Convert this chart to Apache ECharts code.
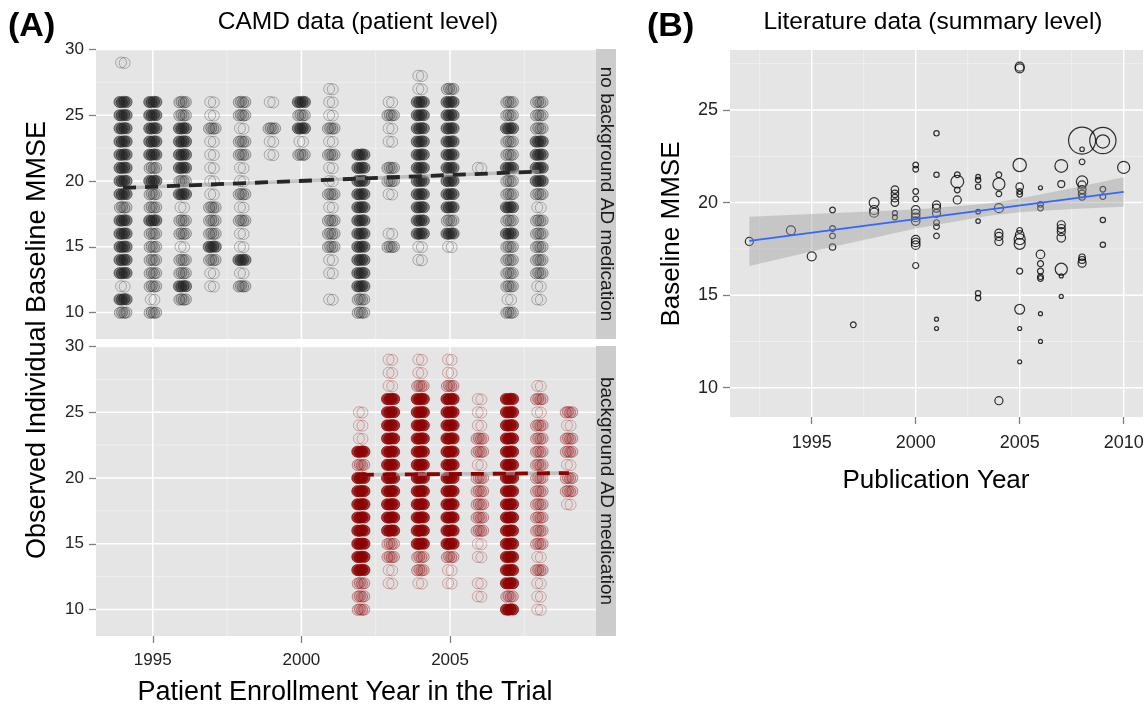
<!DOCTYPE html>
<html>
<head>
<meta charset="utf-8">
<script src="https://cdn.jsdelivr.net/npm/echarts@6/dist/echarts.min.js"></script>
<style>
  html, body { margin: 0; padding: 0; background: #ffffff; }
  #chart { width: 1148px; height: 707px; }
</style>
</head>
<body>
<div id="chart"></div>
<script>
// ---------------- data ----------------
// MMSE score rows (index 0 = score 10 ... index 19 = score 29)
const scoreSteps = [10, 11, 12, 13, 14, 15, 16, 17, 18, 19, 20, 21, 22, 23, 24, 25, 26, 27, 28, 29];

// Patient density per enrollment year and score: 0 none, 1 few, 2 some, 3 many
// Panel: no background AD medication
const noBgYears = [1994, 1995, 1996, 1997, 1998, 1999, 2000, 2001, 2002, 2003, 2004, 2005, 2006, 2007, 2008];
const noBgDensity = [
  [2,3,1,3,3,3,3,3,2,3,3,3,3,3,3,3,3,0,0,1], // 1994
  [2,1,2,2,2,2,2,3,2,2,3,2,3,3,3,3,3,0,0,0], // 1995
  [0,2,3,2,2,1,2,2,1,3,2,3,3,3,3,2,2,0,0,0], // 1996
  [0,0,1,1,2,3,2,2,2,1,1,1,1,1,2,1,1,0,0,0], // 1997
  [0,0,2,1,3,1,1,2,1,2,1,1,2,2,1,2,2,0,0,0], // 1998
  [0,0,0,0,0,0,0,0,0,0,0,0,1,1,2,0,1,0,0,0], // 1999
  [0,0,0,0,0,0,0,0,0,0,0,0,2,1,3,2,3,0,0,0], // 2000
  [0,1,0,1,1,2,2,2,1,2,1,1,2,1,2,1,1,1,0,0], // 2001
  [2,2,3,3,3,3,3,3,3,3,3,3,3,0,0,0,0,0,0,0], // 2002
  [0,0,0,0,0,2,1,0,0,1,2,2,0,1,1,2,1,0,0,0], // 2003
  [0,0,0,0,1,1,3,3,3,3,3,3,3,3,3,3,3,1,1,0], // 2004
  [0,0,0,0,0,1,3,2,3,3,3,3,3,3,3,3,3,2,0,0], // 2005
  [0,0,0,0,0,0,0,0,0,0,0,1,0,0,0,0,0,0,0,0], // 2006
  [2,1,2,2,2,2,3,2,3,2,2,3,2,2,3,2,2,0,0,0], // 2007
  [0,1,1,2,2,2,2,2,1,2,3,3,3,3,2,2,2,0,0,0]  // 2008
];

// Panel: background AD medication
const bgYears = [2002, 2003, 2004, 2005, 2006, 2007, 2008, 2009];
const bgDensity = [
  [2,2,2,3,3,3,3,3,3,3,3,2,3,1,1,1,0,0,0,0], // 2002
  [0,0,1,1,2,2,3,3,3,3,3,3,3,3,3,3,3,1,1,1], // 2003
  [0,0,1,2,2,3,3,3,3,3,3,3,3,3,3,3,3,2,1,1], // 2004
  [0,0,1,1,2,3,3,3,3,3,3,3,3,3,3,3,3,2,1,1], // 2005
  [0,1,1,0,1,1,2,2,2,2,2,1,2,2,1,1,1,0,0,0], // 2006
  [3,2,3,3,3,3,3,3,3,3,3,3,3,3,3,3,3,0,0,0], // 2007
  [1,1,1,2,1,2,2,2,2,2,2,2,2,2,2,1,2,1,0,0], // 2008
  [0,0,0,0,0,0,0,0,1,2,2,1,2,2,1,2,0,0,0,0]  // 2009
];

// Linear trends of baseline MMSE over enrollment year
const noBgTrendYears = [1994, 2008];
const noBgTrend = [19.47, 20.72];
const bgTrendYears = [2002, 2009];
const bgTrend = [20.24, 20.37];

// Literature studies: publication year, mean baseline MMSE, study size
const litYears = [
  1992, 1994, 1995, 1996, 1996, 1996, 1996, 1997, 1998, 1998, 1998,
  1999, 1999, 1999, 1999, 1999, 1999,
  2000, 2000, 2000, 2000, 2000, 2000, 2000, 2000, 2000, 2000, 2000, 2000,
  2001, 2001, 2001, 2001, 2001, 2001, 2001, 2001, 2001, 2001,
  2002, 2002, 2002, 2002,
  2003, 2003, 2003, 2003, 2003, 2003, 2003,
  2004, 2004, 2004, 2004, 2004, 2004, 2004, 2004,
  2005, 2005, 2005, 2005, 2005, 2005, 2005, 2005, 2005, 2005, 2005, 2005, 2005, 2005,
  2006, 2006, 2006, 2006, 2006, 2006, 2006, 2006, 2006, 2006,
  2007, 2007, 2007, 2007, 2007, 2007, 2007, 2007, 2007,
  2008, 2008, 2008, 2008, 2008, 2008, 2008, 2008, 2008, 2008, 2008,
  2009, 2009, 2009, 2009, 2009, 2009,
  2010
];
const litMMSE = [
  17.9, 18.5, 17.1, 19.6, 18.6, 18.2, 17.6, 13.4, 20.0, 19.6, 19.45,
  20.7, 20.47, 20.24, 20.0, 19.43, 19.2,
  22.03, 21.8, 20.6, 20.2, 19.6, 19.4, 19.2, 19.0, 18.0, 17.85, 17.7, 16.6,
  23.74, 21.5, 19.87, 19.7, 19.42, 18.92, 18.7, 18.2, 13.7, 13.2,
  21.5, 21.13, 20.68, 20.14,
  21.4, 21.22, 20.86, 19.51, 19.0, 15.1, 14.84,
  21.5, 21.0, 20.47, 19.7, 18.35, 18.17, 17.9, 9.3,
  27.34, 27.25, 22.03, 20.86, 20.6, 20.45, 18.5, 18.25, 18.02, 17.77, 16.3, 14.24, 13.2, 11.4,
  20.8, 19.9, 19.7, 17.2, 16.7, 16.3, 16.0, 15.9, 14.0, 12.5,
  21.98, 21.0, 18.8, 18.6, 18.43, 18.1, 16.4, 16.04, 14.93,
  23.35, 22.88, 22.2, 21.13, 20.95, 20.7, 20.47, 20.3, 17.05, 16.9, 16.73,
  23.35, 23.3, 20.72, 20.32, 19.06, 17.72,
  21.9
];
const litSize = [
  80, 100, 100, 40, 40, 40, 50, 40, 120, 100, 100,
  70, 70, 70, 70, 30, 30,
  40, 40, 40, 40, 90, 90, 90, 90, 90, 90, 90, 45,
  35, 35, 80, 80, 80, 40, 40, 40, 20, 20,
  40, 200, 40, 80,
  25, 35, 35, 25, 25, 35, 35,
  40, 180, 40, 100, 80, 80, 80, 80,
  100, 100, 220, 70, 40, 40, 40, 90, 150, 150, 45, 120, 20, 20,
  20, 40, 40, 90, 45, 45, 40, 40, 20, 20,
  200, 60, 80, 80, 80, 90, 180, 20, 20,
  900, 25, 40, 160, 80, 80, 70, 50, 50, 60, 80,
  850, 220, 40, 40, 35, 35,
  180
];

// Fitted line and its confidence band for the literature data
const fitYears = [1992, 2010];
const fitMMSE = [17.93, 20.58];
const bandYears = [1992, 1995, 2000, 2003.5, 2005, 2007.5, 2010];
const bandLow = [16.57, 17.36, 18.60, 19.29, 19.48, 19.65, 19.78];
const bandHigh = [19.24, 19.38, 19.62, 19.95, 20.22, 20.77, 21.37];

// Tick values
const enrollTicks = [1995, 2000, 2005];
const enrollMinor = [1997.5, 2002.5, 2007.5];
const mmseTicksA = [10, 15, 20, 25, 30];
const mmseMinorA = [12.5, 17.5, 22.5, 27.5];
const pubTicks = [1995, 2000, 2005, 2010];
const pubMinor = [1992.5, 1997.5, 2002.5, 2007.5];
const mmseTicksB = [10, 15, 20, 25];
const mmseMinorB = [12.5, 17.5, 22.5, 27.5];

// ---------------- helpers ----------------
const FONT = "'Liberation Sans', Arial, Helvetica, sans-serif";
const PANEL_BG = '#E5E5E5';

const A_X = { min: 1993.09, max: 2009.91 };
const A_Y = { min: 7.99, max: 30.03 };
const B_X = { min: 1991.07, max: 2010.93 };
const B_Y = { min: 8.42, max: 28.24 };

function densityCells(years, density) {
  const out = [];
  years.forEach((yr, i) => {
    density[i].forEach((lvl, j) => {
      if (lvl > 0) out.push([yr, scoreSteps[j], lvl]);
    });
  });
  return out;
}

// ring placement per density level (small horizontal spread of overlapping rings)
const RING_LAYOUT = {
  1: [[-2, 0], [1.6, 0.4]],
  2: [[-3.2, 0.3], [-1, -0.3], [1.2, 0.4], [3.4, 0]],
  3: [[-3.6, 0], [-1.2, 0.3], [1.2, -0.3], [3.6, 0]]
};

function densityRenderer(rgb, fillAlpha, strokeAlpha) {
  return function (params, api) {
    const c = api.coord([api.value(0), api.value(1)]);
    const lvl = api.value(2);
    const fill = fillAlpha[lvl] > 0 ? `rgba(${rgb},${fillAlpha[lvl]})` : 'none';
    return {
      type: 'group',
      children: RING_LAYOUT[lvl].map(([dx, dy]) => ({
        type: 'circle',
        shape: { cx: c[0] + dx, cy: c[1] + dy, r: 5.5 },
        style: { fill: fill, stroke: `rgba(${rgb},${strokeAlpha[lvl]})`, lineWidth: 1 }
      }))
    };
  };
}

function gridLines(xMajor, xMinor, yMajor, yMinor, xr, yr) {
  const items = [];
  xMinor.forEach(v => items.push([v, yr.min, 0, 0]));
  yMinor.forEach(v => items.push([xr.min, v, 1, 0]));
  xMajor.forEach(v => items.push([v, yr.min, 0, 1]));
  yMajor.forEach(v => items.push([xr.min, v, 1, 1]));
  return items;
}

function gridRenderer(params, api) {
  const p = api.coord([api.value(0), api.value(1)]);
  const cs = params.coordSys;
  const vertical = api.value(2) === 0;
  const major = api.value(3) === 1;
  const shape = vertical
    ? { x1: p[0], y1: cs.y, x2: p[0], y2: cs.y + cs.height }
    : { x1: cs.x, y1: p[1], x2: cs.x + cs.width, y2: p[1] };
  return {
    type: 'line',
    shape: shape,
    style: { stroke: major ? '#FFFFFF' : 'rgba(255,255,255,0.5)', lineWidth: major ? 1.5 : 0.8 }
  };
}

function pairs(xs, ys) { return xs.map((x, i) => [x, ys[i]]); }

function valueAxis(gridIndex, range, ticks, showLabels, margin, fontSize) {
  return {
    type: 'value', gridIndex: gridIndex, min: range.min, max: range.max,
    axisLine: { show: false },
    splitLine: { show: false },
    axisTick: showLabels ? { show: true, customValues: ticks, length: 7, lineStyle: { color: '#7F7F7F', width: 1.3 } } : { show: false },
    axisLabel: showLabels
      ? { show: true, customValues: ticks, margin: margin, color: '#222222', fontSize: fontSize, fontFamily: FONT, formatter: v => String(v) }
      : { show: false }
  };
}

// ---------------- chart ----------------
const chart = echarts.init(document.getElementById('chart'), null, { renderer: 'canvas' });

const option = {
  animation: false,
  backgroundColor: '#FFFFFF',
  grid: [
    { left: 96, top: 49, width: 500, height: 290, show: true, backgroundColor: PANEL_BG, borderWidth: 0 },
    { left: 96, top: 346, width: 500, height: 290, show: true, backgroundColor: PANEL_BG, borderWidth: 0 },
    { left: 730, top: 50, width: 413, height: 367, show: true, backgroundColor: PANEL_BG, borderWidth: 0 }
  ],
  xAxis: [
    valueAxis(0, A_X, enrollTicks, false, 16, 17),
    valueAxis(1, A_X, enrollTicks, true, 16, 17),
    valueAxis(2, B_X, pubTicks, true, 17, 18)
  ],
  yAxis: [
    valueAxis(0, A_Y, mmseTicksA, true, 12, 17),
    valueAxis(1, A_Y, mmseTicksA, true, 12, 17),
    valueAxis(2, B_Y, mmseTicksB, true, 12, 18)
  ],
  series: [
    // panel grids
    { type: 'custom', xAxisIndex: 0, yAxisIndex: 0, z: 1, silent: true, renderItem: gridRenderer,
      data: gridLines(enrollTicks, enrollMinor, mmseTicksA, mmseMinorA, A_X, A_Y) },
    { type: 'custom', xAxisIndex: 1, yAxisIndex: 1, z: 1, silent: true, renderItem: gridRenderer,
      data: gridLines(enrollTicks, enrollMinor, mmseTicksA, mmseMinorA, A_X, A_Y) },
    { type: 'custom', xAxisIndex: 2, yAxisIndex: 2, z: 1, silent: true, renderItem: gridRenderer,
      data: gridLines(pubTicks, pubMinor, mmseTicksB, mmseMinorB, B_X, B_Y) },

    // patient-level points
    { type: 'custom', name: 'no background AD medication', xAxisIndex: 0, yAxisIndex: 0, z: 2, clip: true,
      renderItem: densityRenderer('30,30,30', { 1: 0.02, 2: 0.15, 3: 0.48 }, { 1: 0.3, 2: 0.38, 3: 0.5 }),
      data: densityCells(noBgYears, noBgDensity) },
    { type: 'custom', name: 'background AD medication', xAxisIndex: 1, yAxisIndex: 1, z: 2, clip: true,
      renderItem: densityRenderer('139,0,0', { 1: 0.02, 2: 0.15, 3: 0.75 }, { 1: 0.28, 2: 0.38, 3: 0.7 }),
      data: densityCells(bgYears, bgDensity) },

    // trend lines (narrow band + dashed fit)
    { type: 'line', xAxisIndex: 0, yAxisIndex: 0, z: 3, showSymbol: false, silent: true,
      data: pairs(noBgTrendYears, noBgTrend), lineStyle: { color: 'rgba(160,160,160,0.55)', width: 3.5 } },
    { type: 'line', xAxisIndex: 0, yAxisIndex: 0, z: 4, showSymbol: false, silent: true,
      data: pairs(noBgTrendYears, noBgTrend), lineStyle: { color: '#262626', width: 3.8, type: [13, 9] } },
    { type: 'line', xAxisIndex: 1, yAxisIndex: 1, z: 3, showSymbol: false, silent: true,
      data: pairs(bgTrendYears, bgTrend), lineStyle: { color: 'rgba(160,160,160,0.55)', width: 3.5 } },
    { type: 'line', xAxisIndex: 1, yAxisIndex: 1, z: 4, showSymbol: false, silent: true,
      data: pairs(bgTrendYears, bgTrend), lineStyle: { color: '#8B0000', width: 3.8, type: [13, 9] } },

    // literature studies
    { type: 'scatter', xAxisIndex: 2, yAxisIndex: 2, z: 2,
      data: litYears.map((y, i) => [y, litMMSE[i], litSize[i]]),
      symbol: 'circle',
      symbolSize: v => Math.sqrt(v[2]) * 0.9,
      itemStyle: { color: 'rgba(0,0,0,0)', borderColor: '#000000', borderWidth: 1.2 } },

    // confidence band of the fit
    { type: 'custom', xAxisIndex: 2, yAxisIndex: 2, z: 3, silent: true,
      data: [[bandYears[0], bandLow[0]]],
      renderItem: function (params, api) {
        const pts = bandYears.map((y, i) => api.coord([y, bandLow[i]]))
          .concat(bandYears.map((y, i) => api.coord([y, bandHigh[i]])).reverse());
        return { type: 'polygon', shape: { points: pts }, style: { fill: 'rgba(153,153,153,0.4)' } };
      } },
    // fitted line
    { type: 'line', xAxisIndex: 2, yAxisIndex: 2, z: 4, showSymbol: false, silent: true,
      data: pairs(fitYears, fitMMSE), lineStyle: { color: '#3366FF', width: 1.6 } }
  ],
  graphic: [
    // facet strips
    { type: 'rect', shape: { x: 596, y: 49, width: 20, height: 290 }, style: { fill: '#CCCCCC' } },
    { type: 'rect', shape: { x: 596, y: 346, width: 20, height: 290 }, style: { fill: '#CCCCCC' } },
    { type: 'text', x: 606, y: 194, rotation: -Math.PI / 2,
      style: { text: 'no background AD medication', font: `19px ${FONT}`, fill: '#1A1A1A', textAlign: 'center', textVerticalAlign: 'middle' } },
    { type: 'text', x: 606, y: 491, rotation: -Math.PI / 2,
      style: { text: 'background AD medication', font: `19px ${FONT}`, fill: '#1A1A1A', textAlign: 'center', textVerticalAlign: 'middle' } },

    // panel labels and titles
    { type: 'text', x: 8, y: 27,
      style: { text: '(A)', font: `bold 34px ${FONT}`, fill: '#000000', textAlign: 'left', textVerticalAlign: 'middle' } },
    { type: 'text', x: 358, y: 22,
      style: { text: 'CAMD data (patient level)', font: `24.5px ${FONT}`, fill: '#000000', textAlign: 'center', textVerticalAlign: 'middle' } },
    { type: 'text', x: 647, y: 27,
      style: { text: '(B)', font: `bold 34px ${FONT}`, fill: '#000000', textAlign: 'left', textVerticalAlign: 'middle' } },
    { type: 'text', x: 933, y: 22,
      style: { text: 'Literature data (summary level)', font: `24.5px ${FONT}`, fill: '#000000', textAlign: 'center', textVerticalAlign: 'middle' } },

    // axis titles
    { type: 'text', x: 38, y: 340, rotation: Math.PI / 2,
      style: { text: 'Observed Individual Baseline MMSE', font: `27px ${FONT}`, fill: '#000000', textAlign: 'center', textVerticalAlign: 'middle' } },
    { type: 'text', x: 345, y: 693,
      style: { text: 'Patient Enrollment Year in the Trial', font: `27px ${FONT}`, fill: '#000000', textAlign: 'center', textVerticalAlign: 'middle' } },
    { type: 'text', x: 672, y: 234, rotation: Math.PI / 2,
      style: { text: 'Baseline MMSE', font: `26px ${FONT}`, fill: '#000000', textAlign: 'center', textVerticalAlign: 'middle' } },
    { type: 'text', x: 936, y: 481,
      style: { text: 'Publication Year', font: `26px ${FONT}`, fill: '#000000', textAlign: 'center', textVerticalAlign: 'middle' } }
  ]
};

chart.setOption(option);
</script>
</body>
</html>
